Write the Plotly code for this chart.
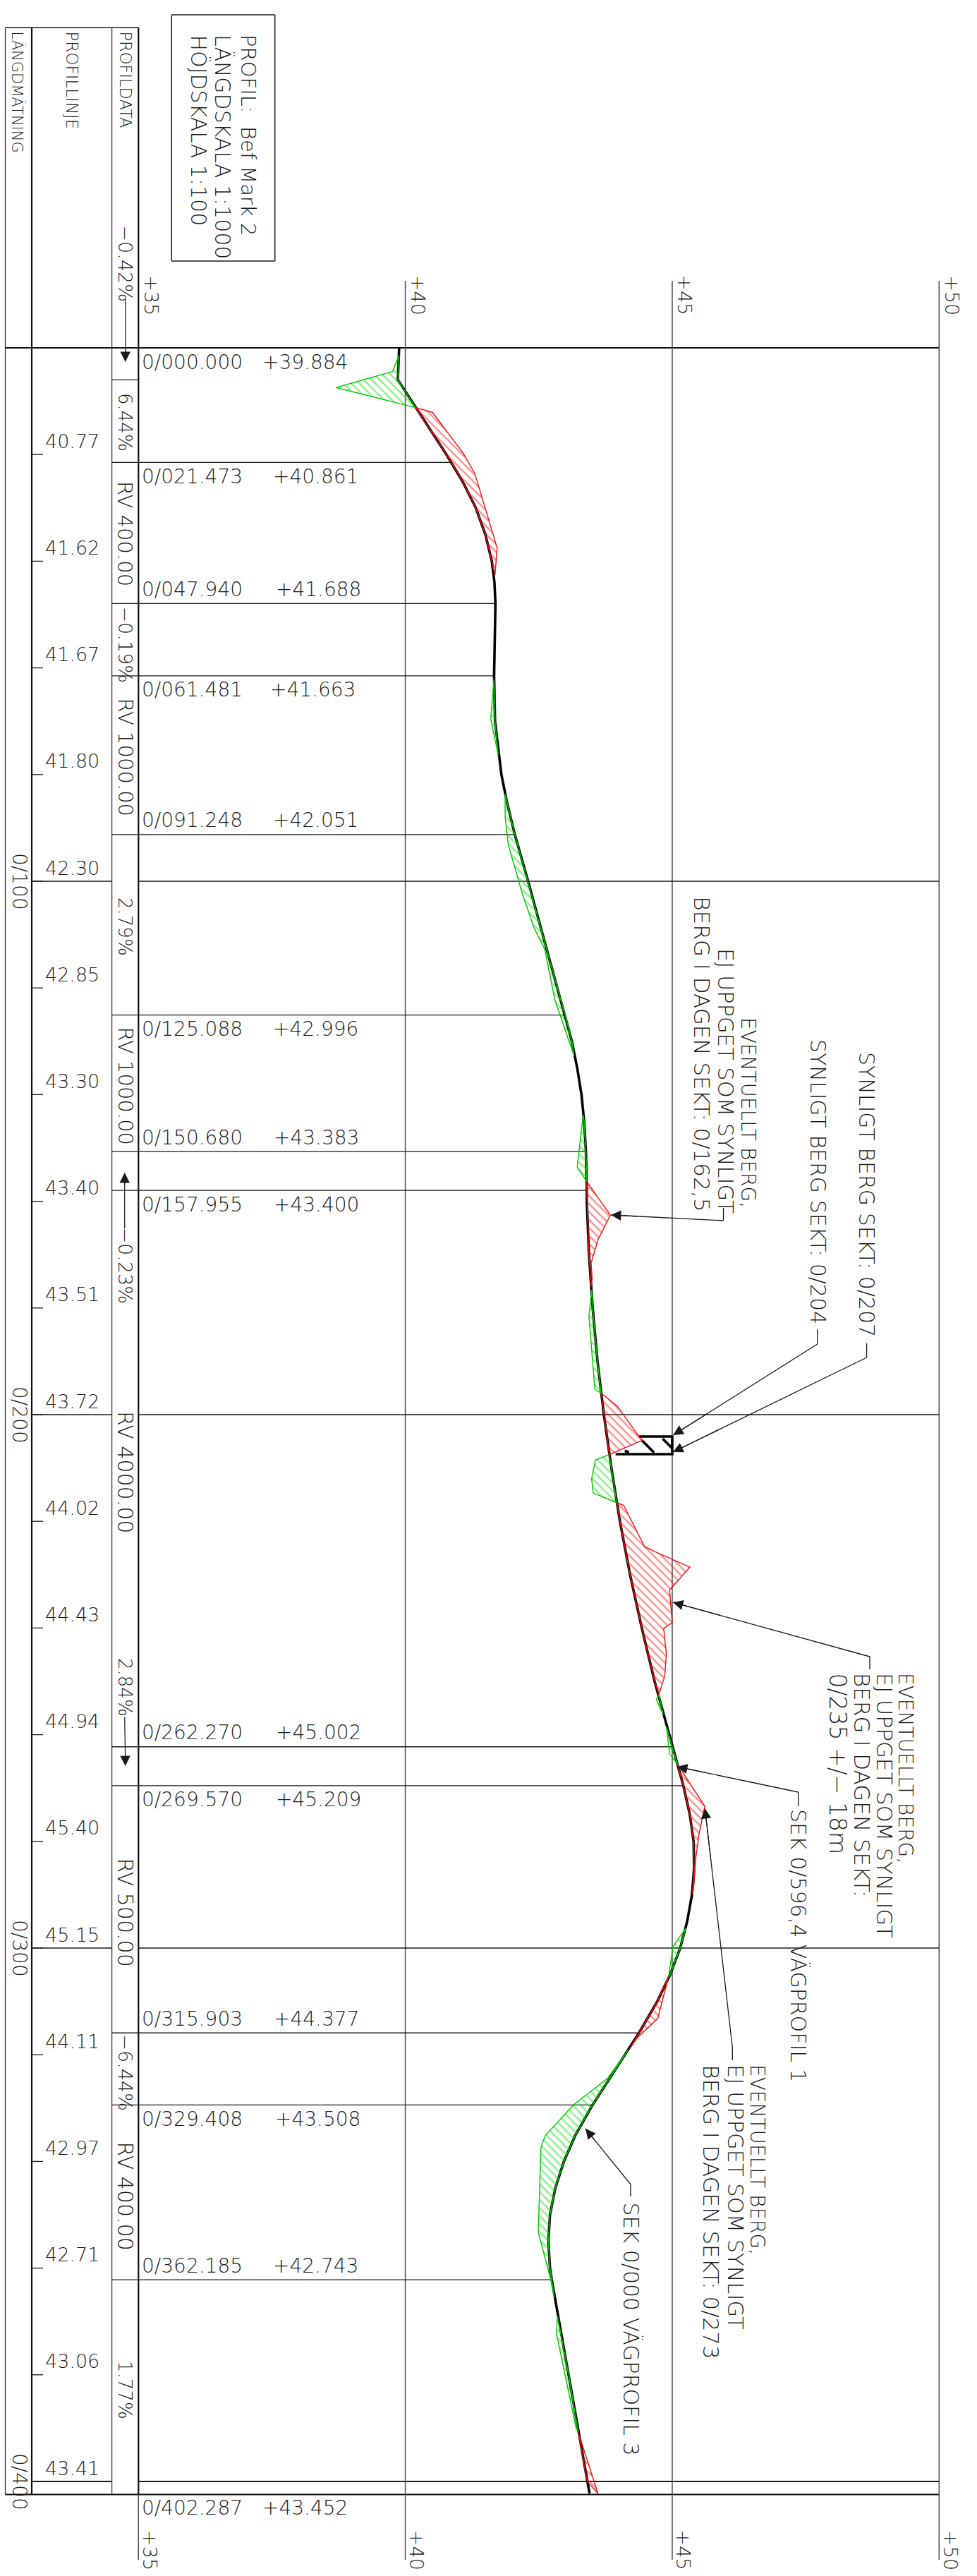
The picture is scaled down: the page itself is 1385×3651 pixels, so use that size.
import plotly.graph_objects as go

# ---------- data ----------
profile_station = [0, 6, 20, 21.473, 25, 30, 35, 40, 44, 47.94, 60, 61.481, 70, 80, 85, 91.248, 100, 120, 125.088,
                   130, 135, 140, 145, 150.68, 157.955, 160, 170, 180, 190, 200, 210, 220, 230, 240, 250, 260, 262.27,
                   269.57, 275, 280, 285, 290, 295, 300, 305, 310, 315.903, 320, 325, 329.408, 335, 340, 345, 350,
                   355, 360, 362.185, 380, 400, 402.287]
profile_elev = [39.884, 39.86, 40.77, 40.861, 41.07, 41.32, 41.50, 41.62, 41.67, 41.688, 41.67, 41.663, 41.68, 41.80,
                41.90, 42.051, 42.30, 42.85, 42.996, 43.12, 43.22, 43.30, 43.35, 43.383, 43.40, 43.40, 43.44, 43.51,
                43.60, 43.72, 43.86, 44.02, 44.21, 44.43, 44.67, 44.94, 45.002, 45.209, 45.33, 45.40, 45.41, 45.37,
                45.28, 45.15, 44.96, 44.72, 44.377, 44.11, 43.79, 43.508, 43.19, 42.97, 42.81, 42.71, 42.68, 42.71,
                42.743, 43.06, 43.41, 43.452]

section_station = [0.0, 21.473, 47.94, 61.481, 91.248, 125.088, 150.68, 157.955, 262.27, 269.57, 315.903, 329.408,
                   362.185, 402.287]
section_name = ["0/000.000", "0/021.473", "0/047.940", "0/061.481", "0/091.248", "0/125.088", "0/150.680",
                "0/157.955", "0/262.270", "0/269.570", "0/315.903", "0/329.408", "0/362.185", "0/402.287"]
section_elev = [39.884, 40.861, 41.688, 41.663, 42.051, 42.996, 43.383, 43.400, 45.002, 45.209, 44.377, 43.508,
                42.743, 43.452]
section_elev_text_px = [371, 386, 390, 382, 386, 386, 387, 387, 390, 390, 387, 389, 386, 371]

tick_station = list(range(20, 401, 20))
tick_label = ["40.77", "41.62", "41.67", "41.80", "42.30", "42.85", "43.30", "43.40", "43.51", "43.72",
              "44.02", "44.43", "44.94", "45.40", "45.15", "44.11", "42.97", "42.71", "43.06", "43.41"]
hundred_station = [100, 200, 300, 400]
hundred_label = ["0/100", "0/200", "0/300", "0/400"]
elev_ticks = [35, 40, 45, 50]
elev_tick_label = ["+35", "+40", "+45", "+50"]

# terrain outlines (station, elevation) of the cut / fill areas
green_1 = ([1.4, 4.45, 7.45, 11.2], [39.88, 39.76, 38.70, 40.19])
red_1 = ([11.2, 12.1, 19.7, 23.5, 37.5, 42.6], [40.19, 40.51, 41.08, 41.30, 41.72, 41.68])
green_2 = ([62.1, 69.6, 76.3], [41.66, 41.60, 41.74])
green_3 = ([83.7, 88.1, 93.2, 102.3, 108.7, 112.7, 122.2, 132.7],
           [41.87, 41.87, 41.93, 42.19, 42.41, 42.61, 42.80, 43.16])
green_4 = ([143.8, 153.6, 156.3], [43.33, 43.22, 43.40])
red_2 = ([156.3, 162.6, 167.2, 171.6, 174.5, 176.0], [43.40, 43.84, 43.61, 43.48, 43.50, 43.48])
green_5 = ([176.6, 181.6, 195.2, 196.0], [43.49, 43.44, 43.55, 43.67])
red_3 = ([196.0, 198.4, 204.0, 204.8, 207.5], [43.67, 43.97, 44.37, 44.44, 43.82])
green_6 = ([207.5, 208.5, 212.0, 214.7, 216.5], [43.82, 43.56, 43.49, 43.52, 43.96])
red_4 = ([216.5, 217.0, 224.7, 225.6, 228.6, 232.9, 239.0, 240.1, 244.8, 249.0, 252.5],
         [43.96, 44.09, 44.48, 44.66, 45.33, 44.95, 45.00, 44.84, 44.89, 44.86, 44.75])
green_7 = ([252.5, 253.4, 256.2], [44.75, 44.70, 44.83])
green_8 = ([258.5, 260.9, 263.6, 265.6], [44.89, 44.92, 44.95, 45.10])
red_5 = ([265.6, 273.4, 278.8, 283.2, 287.9, 290.0], [45.10, 45.61, 45.50, 45.44, 45.41, 45.38])
green_9 = ([296.3, 299.8, 302.1, 305.4], [45.25, 45.01, 44.98, 44.93])
red_6 = ([305.4, 308.0, 313.2, 316.9, 318.9], [44.93, 44.86, 44.73, 44.34, 44.20])
green_10 = ([319.0, 324.4, 329.4, 335.2, 337.4, 353.3, 362.7, 365.6],
            [44.18, 43.79, 43.15, 42.62, 42.54, 42.49, 42.74, 42.79])
green_11 = ([369.0, 372.2, 390.0, 390.8], [42.85, 42.83, 43.20, 43.24])
red_7 = ([390.8, 402.287], [43.24, 43.61])
green_areas = [green_1, green_2, green_3, green_4, green_5, green_6, green_7, green_8, green_9, green_10, green_11]
red_areas = [red_1, red_2, red_3, red_4, red_5, red_6, red_7]

rock_station = [207.4, 207.4, 204.1, 204.1, None, 204.8, 207.1, None, 204.5, 206.3, None, 206.8, 207.0]
rock_elev = [43.94, 45.0, 45.0, 44.37, None, 44.43, 44.66, None, 44.82, 45.0, None, 44.11, 44.19]

# ---------- page geometry ----------
W, H = 1385, 3651
PX40, PXU = 574.6, 75.67
PY0, PYM = 493.0, 7.56
X = lambda px: 40 + (px - PX40) / PXU
Y = lambda py: (py - PY0) / PYM
TX = lambda el: PX40 + (el - 40) * PXU
FONT = "DejaVu Sans Light, DejaVu Sans"
INK = "#1c1c1c"

fig = go.Figure()
fig.add_trace(go.Scatter(x=profile_elev, y=profile_station, mode="lines", line=dict(color="black", width=3.6),
                         hoverinfo="skip", showlegend=False))
fig.add_trace(go.Scatter(x=rock_elev, y=rock_station, mode="lines", line=dict(color="black", width=3.6),
                         connectgaps=False, hoverinfo="skip", showlegend=False))


def area(outline, line_col, hatch):
    s, e = outline
    back = [(a, b) for a, b in zip(profile_station, profile_elev) if s[0] < a < s[-1]][::-1]
    xs = list(e) + [b for a, b in back] + [e[0]]
    ys = list(s) + [a for a, b in back] + [s[0]]
    fig.add_trace(go.Scatter(x=xs, y=ys, mode="lines", fill="toself", fillcolor="rgba(0,0,0,0)",
                             fillpattern=dict(shape="\\", fgcolor=hatch, bgcolor="rgba(255,255,255,0)", size=8,
                                              solidity=0.3),
                             line=dict(color=line_col, width=1.4), hoverinfo="skip", showlegend=False))


for a in green_areas:
    area(a, "#00c800", "#14e014")
for a in red_areas:
    area(a, "#ee1010", "#f52020")

shapes = []


def seg(x0, y0, x1, y1, width=1.3, color="#1a1a1a"):
    shapes.append(dict(type="line", xref="x", yref="y", x0=X(x0), y0=Y(y0), x1=X(x1), y1=Y(y1),
                       line=dict(color=color, width=width), layer="below"))


LEFT, C1, C2, C3, RIGHT = 7.5, 45, 158.5, 196.3, 1331
TOP, Y0, BOT = 39, 493, 3535.5
# table frame
seg(LEFT, TOP, C3, TOP, 1.6)
seg(LEFT, TOP, LEFT, BOT, 1.3, "#333")
seg(C1, TOP, C1, BOT, 2.2, "#111")
seg(C2, TOP, C2, BOT, 1.6, "#555")
seg(C3, TOP, C3, BOT, 2.2, "#111")
seg(LEFT, Y0, RIGHT, Y0, 2.2, "#111")
seg(LEFT, BOT, RIGHT, BOT, 2.2, "#111")
# elevation grid
for el in elev_ticks:
    seg(TX(el), 398 if el != 35 else BOT, TX(el), 3628, 1.6, "#555")
# hundred-metre lines
for s in hundred_station:
    py = PY0 + s * PYM
    seg(C1, py, C2, py, 1.3 if s != 400 else 2)
    seg(C3, py, RIGHT, py, 1.3 if s != 400 else 2)
# section lines run from the table to the profile line
for s, e in zip(section_station[1:-1], section_elev[1:-1]):
    py = PY0 + s * PYM
    seg(C2, py, TX(e), py, 1.3)
seg(C2, PY0 + 6 * PYM, C3, PY0 + 6 * PYM, 1.3)
# profile-line ticks
for s in tick_station:
    py = PY0 + s * PYM
    seg(C1, py, 61, py, 1.3)
# title box
for a, b, c, d in [(243.3, 21, 389.7, 21), (243.3, 370, 389.7, 370), (243.3, 21, 243.3, 370), (389.7, 21, 389.7, 370)]:
    seg(a, b, c, d, 1.5)

ann = []


def rot(text, cx, top, size=27):
    ann.append(dict(text=text, xref="x", yref="y", x=X(cx), y=Y(top), xanchor="center", yanchor="top", textangle=90,
                    showarrow=False, borderpad=0, font=dict(family=FONT, size=size, color=INK)))


def hor(text, left, py, size=27, anchor="left"):
    ann.append(dict(text=text, xref="x", yref="y", x=X(left), y=Y(py), xanchor=anchor, yanchor="middle",
                    showarrow=False, borderpad=0, font=dict(family=FONT, size=size, color=INK)))


def arrow(tail, tip):
    ann.append(dict(text=" ", xref="x", yref="y", axref="x", ayref="y", x=X(tip[0]), y=Y(tip[1]), ax=X(tail[0]),
                    ay=Y(tail[1]), showarrow=True, arrowhead=2, arrowsize=2.4, arrowwidth=1.2, arrowcolor="#1a1a1a",
                    standoff=0, startstandoff=0))


def leader(start, knee, tip):
    seg(start[0], start[1], knee[0], knee[1], 1.3)
    seg(knee[0], knee[1], tip[0], tip[1], 1.3)
    near = (tip[0] + (knee[0] - tip[0]) * 0.25, tip[1] + (knee[1] - tip[1]) * 0.25)
    arrow(near, tip)


# headings
rot("LÄNGDMÄTNING", 24.5, 43, 21)
rot("PROFILLINJE", 102, 43, 23)
rot("PROFILDATA", 178, 43, 22.5)
rot("PROFIL:  Bef Mark 2", 352, 48, 29)
rot("LÄNGDSKALA 1:1000", 316, 48, 30)
rot("HÖJDSKALA 1:100", 281, 48, 30)

# gradient / curve column
for text, top, size in [("−0.42%", 318, 27), ("6.44%", 556, 26), ("RV 400.00", 681, 29), ("−0.19%", 858, 27),
                        ("RV 1000.00", 988, 29), ("2.79%", 1271, 26), ("RV 1000.00", 1454, 29), ("−0.23%", 1738, 27),
                        ("RV 4000.00", 1999, 30), ("2.84%", 2349, 26), ("RV 500.00", 2632, 30), ("−6.44%", 2882, 27),
                        ("RV 400.00", 3034, 30), ("1.77%", 3345, 26)]:
    rot(text, 177.5, top, size)
seg(177.7, 424, 177.7, 505, 1.2)
arrow((177.7, 485), (177.7, 513))
seg(176.7, 1741, 176.7, 1672, 1.2)
arrow((176.7, 1690), (176.7, 1662))
seg(176.7, 2434, 177.7, 2495, 1.2)
arrow((177.5, 2475), (177.7, 2503))

# section labels
for i, (s, n, e) in enumerate(zip(section_station, section_name, section_elev)):
    off = 20 if i in (0, 1, 3, 5, 7, 9, 11, 13) else -20
    py = PY0 + s * PYM + off
    hor(n, 200, py, 28)
    hor("+%.3f" % e, section_elev_text_px[i], py, 28)

for s, t in zip(tick_station, tick_label):
    hor(t, 102.5, PY0 + s * PYM - 19, 27, "center")
for s, t in zip(hundred_station, hundred_label):
    ann.append(dict(text=t, xref="x", yref="y", x=X(28), y=s, xanchor="center", yanchor="middle", textangle=90,
                    showarrow=False, borderpad=0, font=dict(family=FONT, size=28, color=INK)))

for el, t in zip(elev_ticks, elev_tick_label):
    rot(t, TX(el) + 18, 389, 27)
    rot(t, TX(el) + 16, 3585, 27)

# callouts
rot("SYNLIGT BERG SEKT: 0/207", 1229, 1490, 30)
rot("SYNLIGT BERG SEKT: 0/204", 1160, 1472, 30)
rot("EVENTUELLT BERG,", 1061, 1441, 28)
rot("EJ UPPGET SOM SYNLIGT", 1029, 1343, 30.5)
rot("BERG I DAGEN SEKT: 0/162,5", 995, 1269, 31)
rot("EVENTUELLT BERG,", 1284, 2370, 28)
rot("EJ UPPGET SOM SYNLIGT", 1254, 2370, 30.5)
rot("BERG I DAGEN SEKT:", 1222, 2370, 31)
rot("0/235 +/− 18m", 1187, 2370, 33)
rot("SEK 0/596,4 VÄGPROFIL 1", 1132, 2563, 30)
rot("EVENTUELLT BERG,", 1074, 2925, 28)
rot("EJ UPPGET SOM SYNLIGT", 1043, 2925, 30.5)
rot("BERG I DAGEN SEKT: 0/273", 1008, 2925, 31)
rot("SEK 0/000 VÄGPROFIL 3", 894, 3120, 30)

leader((1228.6, 1904), (1228.6, 1924), (954, 2058))
leader((1158.7, 1884), (1158.7, 1905), (954.3, 2034))
leader((1025.5, 1712), (1025.5, 1730), (866, 1722))
leader((1233, 2366), (1233, 2348), (954, 2271))
leader((1131.7, 2560), (1131.7, 2540), (960, 2504))
leader((1038.3, 2920), (1038.3, 2902), (999.3, 2563))
leader((894, 3113), (894, 3096), (830, 3017))

fig.update_layout(
    width=W, height=H, margin=dict(l=0, r=0, t=0, b=0), paper_bgcolor="white", plot_bgcolor="white",
    showlegend=False, shapes=shapes, annotations=ann,
    xaxis=dict(visible=False, range=[X(0), X(W)], fixedrange=True),
    yaxis=dict(visible=False, range=[Y(H), Y(0)], fixedrange=True),
)
fig.write_html("out.html", config=dict(displayModeBar=False),
               post_script="document.body.style.margin='0';")
